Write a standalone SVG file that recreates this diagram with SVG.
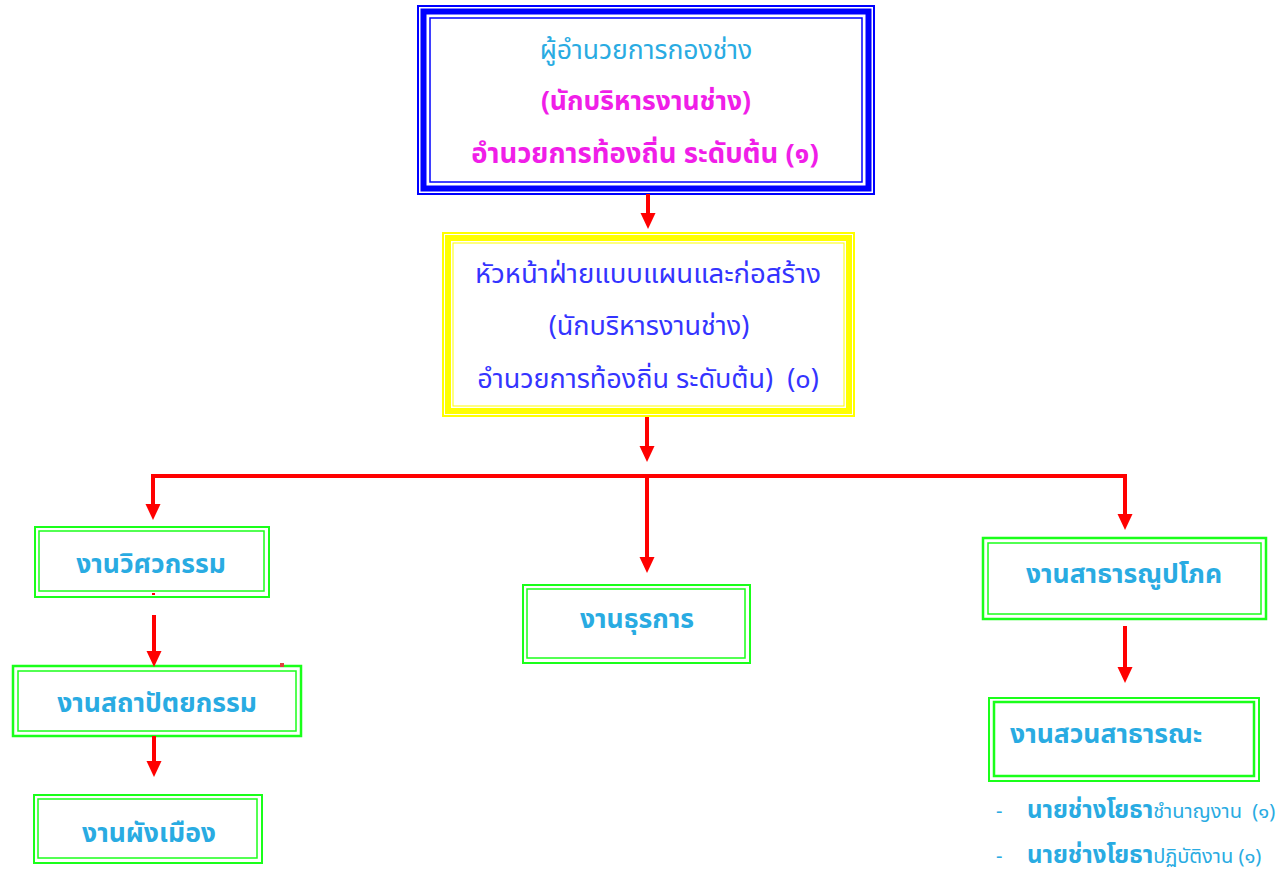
<svg xmlns="http://www.w3.org/2000/svg" width="1288" height="872" viewBox="0 0 1288 872">
<defs>
<style>
.t{font-family:"Noto Sans Thai","Tahoma","DejaVu Sans",sans-serif;}
.lb{fill:#29abe2;}
.mg{fill:#f01ee8;font-weight:bold;}
.bl{fill:#3434ff;}
.b{font-weight:bold;}
.g{fill:none;stroke:#1aff1a;}
.con{stroke:#ff0000;stroke-width:4;fill:none;}
</style>
<marker id="ah" markerWidth="17" markerHeight="16" refX="6" refY="8" orient="auto" markerUnits="userSpaceOnUse">
<path d="M0,0.5 L16,8 L0,15.5 z" fill="#ff0000"/>
</marker>
</defs>
<rect width="1288" height="872" fill="#ffffff"/>

<g id="n-director">
<rect x="418" y="6" width="456" height="188" fill="#fff" stroke="#0000ff" stroke-width="2"/>
<rect x="423.5" y="11.5" width="445" height="177" fill="none" stroke="#0000ff" stroke-width="6"/>
<rect x="430" y="18" width="432" height="164" fill="none" stroke="#0000ff" stroke-width="1.5"/>
<text class="t lb" x="646" y="59" font-size="26.5" text-anchor="middle">ผู้อำนวยการกองช่าง</text>
<text class="t mg" x="646" y="110" font-size="26.5" text-anchor="middle">(นักบริหารงานช่าง)</text>
<text class="t mg" x="645" y="163" font-size="27.5" text-anchor="middle">อำนวยการท้องถิ่น ระดับต้น (๑)</text>
</g>

<g id="n-head">
<rect x="443" y="233" width="411" height="183" fill="#fff" stroke="#ffff00" stroke-width="2"/>
<rect x="448" y="238" width="401" height="173" fill="none" stroke="#ffff00" stroke-width="6"/>
<rect x="453" y="243" width="391" height="163" fill="none" stroke="#ffff00" stroke-width="1"/>
<text class="t bl" x="648" y="283" font-size="27.5" text-anchor="middle">หัวหน้าฝ่ายแบบแผนและก่อสร้าง</text>
<text class="t bl" x="649" y="335" font-size="27" text-anchor="middle">(นักบริหารงานช่าง)</text>
<text class="t bl" x="648" y="388" font-size="27" text-anchor="middle">อำนวยการท้องถิ่น ระดับต้น)&#160;&#160;(๐)</text>
</g>

<g id="n-eng">
<rect class="g" x="35" y="527" width="234" height="70" stroke-width="2"/>
<rect class="g" x="39" y="531" width="225" height="60" stroke-width="1.5"/>
<text class="t lb b" x="151" y="573" font-size="26.5" text-anchor="middle">งานวิศวกรรม</text>
</g>

<g id="n-arch">
<rect class="g" x="13" y="666" width="288" height="70" stroke-width="2.5"/>
<rect class="g" x="18" y="671" width="278" height="60" stroke-width="1.5"/>
<text class="t lb b" x="157" y="712" font-size="26.5" text-anchor="middle">งานสถาปัตยกรรม</text>
</g>

<g id="n-city">
<rect class="g" x="34" y="795" width="228" height="68" stroke-width="2"/>
<rect class="g" x="38" y="799" width="219" height="59" stroke-width="1.5"/>
<text class="t lb b" x="149" y="842" font-size="26.5" text-anchor="middle">งานผังเมือง</text>
</g>

<g id="n-admin">
<rect class="g" x="523" y="585" width="227" height="78" stroke-width="2"/>
<rect class="g" x="527" y="589" width="218" height="69" stroke-width="1.5"/>
<text class="t lb b" x="637" y="628" font-size="26.5" text-anchor="middle">งานธุรการ</text>
</g>

<g id="n-util">
<rect class="g" x="983" y="538" width="283" height="81" stroke-width="2.5"/>
<rect class="g" x="988" y="543" width="273" height="71" stroke-width="1.5"/>
<text class="t lb b" x="1124" y="583" font-size="26.5" text-anchor="middle">งานสาธารณูปโภค</text>
</g>

<g id="n-park">
<rect class="g" x="989" y="698" width="270" height="83" stroke-width="2"/>
<rect class="g" x="994" y="702" width="260" height="74" stroke-width="2.5"/>
<text class="t lb b" x="1010" y="743" font-size="26.5">งานสวนสาธารณะ</text>
<text class="t lb" x="996" y="818" font-size="20">-</text>
<text class="t lb" x="1027" y="818"><tspan class="b" font-size="24">นายช่างโยธา</tspan><tspan font-size="20">ชำนาญงาน&#160;&#160;(๑)</tspan></text>
<text class="t lb" x="996" y="863" font-size="20">-</text>
<text class="t lb" x="1027" y="863"><tspan class="b" font-size="24">นายช่างโยธา</tspan><tspan font-size="20">ปฏิบัติงาน (๑)</tspan></text>
</g>

<g id="connectors">
<line class="con" x1="648" y1="194" x2="648" y2="219" marker-end="url(#ah)"/>
<line class="con" x1="647" y1="417" x2="647" y2="452" marker-end="url(#ah)"/>
<line class="con" x1="151" y1="476" x2="1127" y2="476"/>
<line class="con" x1="153" y1="474" x2="153" y2="510" marker-end="url(#ah)"/>
<line class="con" x1="647" y1="476" x2="647" y2="563" marker-end="url(#ah)"/>
<line class="con" x1="1125" y1="474" x2="1125" y2="520" marker-end="url(#ah)"/>
<line class="con" x1="154" y1="615" x2="154" y2="657" marker-end="url(#ah)"/>
<line class="con" x1="154" y1="736" x2="154" y2="767" marker-end="url(#ah)"/>
<line class="con" x1="1125" y1="626" x2="1125" y2="673" marker-end="url(#ah)"/>
<rect x="152" y="593" width="3" height="2" fill="#ff0000"/>
<rect x="280" y="663" width="4" height="4" fill="#e04040"/>
</g>
</svg>
